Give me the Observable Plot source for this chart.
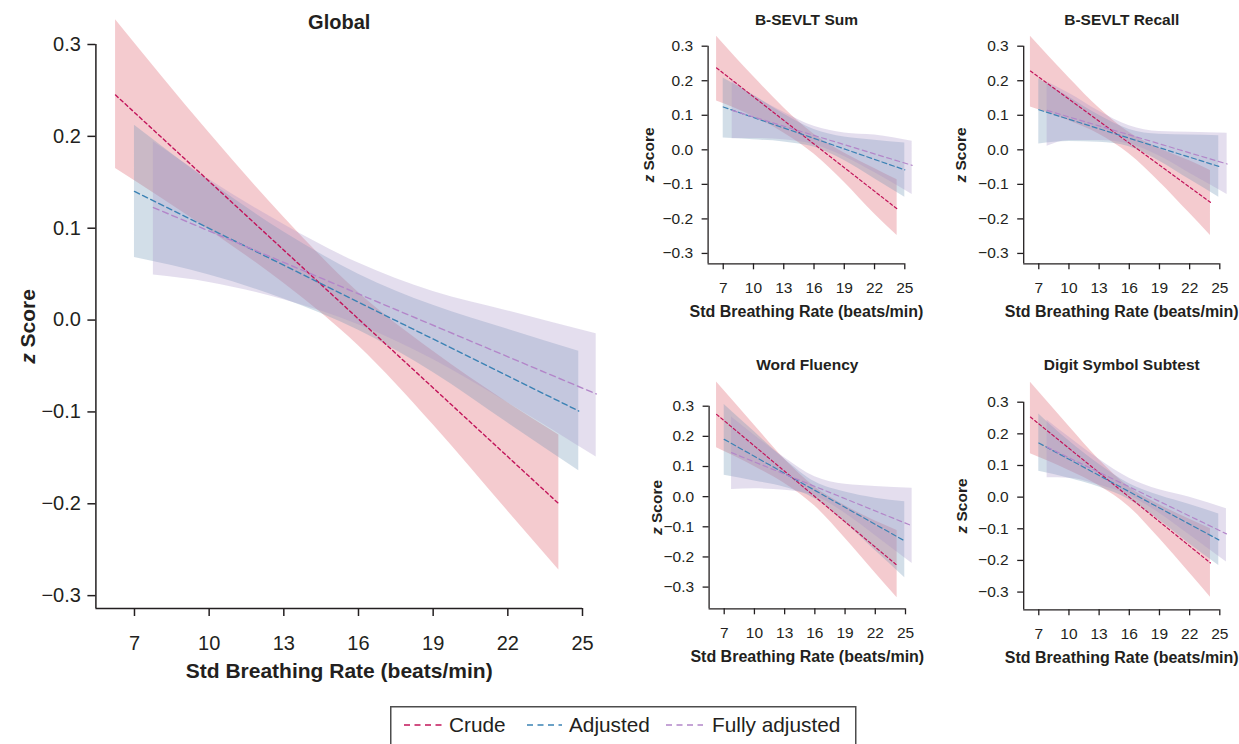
<!DOCTYPE html>
<html><head><meta charset="utf-8">
<script src="https://cdn.jsdelivr.net/npm/d3@7"></script>
<script src="https://cdn.jsdelivr.net/npm/@observablehq/plot@0.6"></script>
<style>
html,body{margin:0;padding:0;background:#fff;}
#chart{position:relative;width:1239px;height:744px;overflow:hidden;background:#fff;font-family:"Liberation Sans",Arial,Helvetica,sans-serif;}
#chart > svg{position:absolute;}
</style></head><body><div id="chart"></div>
<script>
// ---------- data ----------
const panelTitles = ["Global", "B-SEVLT Sum", "B-SEVLT Recall", "Word Fluency", "Digit Symbol Subtest"];
const seriesNames = ["Crude", "Adjusted", "Fully adjusted"];
const breathingTicks = [7, 10, 13, 16, 19, 22, 25];
const zTicks = [-0.3, -0.2, -0.1, 0, 0.1, 0.2, 0.3];
const xAxisLabel = "Std Breathing Rate (beats/min)";
const yAxisLabel = "z Score";

// Global
const globalBandX = [[6.24,10,13,16,19,22,24.05],[7.0,10,13,16,19,22,24.85],[7.76,10,13,16,19,22,25.55]];
const globalBandLo = [[0.165,0.098,0.040,-0.028,-0.114,-0.208,-0.272],[0.068,0.049,0.023,-0.011,-0.057,-0.112,-0.164],[0.049,0.041,0.022,-0.005,-0.043,-0.090,-0.149]];
const globalBandHi = [[0.327,0.204,0.112,0.030,-0.034,-0.090,-0.125],[0.212,0.151,0.096,0.050,0.016,-0.010,-0.034],[0.194,0.153,0.104,0.062,0.031,0.010,-0.015]];
const globalLineStart = [0.245, 0.140, 0.1225];
const globalLineEnd = [-0.200, -0.099, -0.0804];

// B-SEVLT Sum
const sumBandX = [[6.34,10,13,16,19,22,24.24],[7.0,10,13,16,19,22,25.0],[7.89,10,13,16,19,22,25.73]];
const sumBandLo = [[0.141,0.096,0.049,-0.012,-0.094,-0.186,-0.248],[0.034,0.029,0.023,0.008,-0.031,-0.084,-0.137],[0.032,0.033,0.029,0.015,-0.019,-0.066,-0.129]];
const sumBandHi = [[0.329,0.212,0.122,0.045,-0.009,-0.054,-0.087],[0.208,0.158,0.104,0.059,0.037,0.028,0.020],[0.201,0.157,0.109,0.068,0.049,0.043,0.025]];
const sumLineStart = [0.237, 0.124, 0.114];
const sumLineEnd = [-0.171, -0.058, -0.045];

// B-SEVLT Recall
const recallBandX = [[6.17,10,13,16,19,22,24.07],[7.0,10,13,16,19,22,24.9],[7.83,10,13,16,19,22,25.73]];
const recallBandLo = [[0.124,0.084,0.045,-0.012,-0.093,-0.184,-0.248],[0.017,0.024,0.022,0.009,-0.033,-0.086,-0.137],[0.010,0.027,0.027,0.017,-0.018,-0.068,-0.129]];
const recallBandHi = [[0.329,0.209,0.121,0.050,0.004,-0.032,-0.060],[0.206,0.153,0.100,0.059,0.045,0.043,0.041],[0.196,0.164,0.112,0.070,0.053,0.051,0.048]];
const recallLineStart = [0.228, 0.116, 0.114];
const recallLineEnd = [-0.152, -0.048, -0.041];

// Word Fluency
const fluencyBandX = [[6.24,10,13,16,19,22,24.17],[7.0,10,13,16,19,22,24.93],[7.73,10,13,16,19,22,25.66]];
const fluencyBandLo = [[0.162,0.100,0.044,-0.031,-0.138,-0.253,-0.335],[0.071,0.052,0.031,-0.007,-0.086,-0.179,-0.269],[0.024,0.026,0.021,0.002,-0.055,-0.129,-0.222]];
const fluencyBandHi = [[0.380,0.237,0.124,0.032,-0.030,-0.081,-0.112],[0.306,0.215,0.124,0.049,0.015,-0.005,-0.017],[0.264,0.204,0.129,0.066,0.041,0.034,0.028]];
const fluencyLineStart = [0.273, 0.190, 0.146];
const fluencyLineEnd = [-0.228, -0.147, -0.097];

// Digit Symbol Subtest
const digitBandX = [[6.17,10,13,16,19,22,24.07],[7.0,10,13,16,19,22,24.9],[7.83,10,13,16,19,22,25.66]];
const digitBandLo = [[0.137,0.084,0.036,-0.031,-0.131,-0.240,-0.316],[0.082,0.060,0.032,-0.008,-0.073,-0.148,-0.216],[0.061,0.060,0.038,0.005,-0.051,-0.120,-0.205]];
const digitBandHi = [[0.363,0.224,0.118,0.031,-0.024,-0.070,-0.100],[0.263,0.178,0.104,0.042,0.005,-0.023,-0.053],[0.244,0.190,0.120,0.060,0.023,0.000,-0.037]];
const digitLineStart = [0.253, 0.171, 0.158];
const digitLineEnd = [-0.208, -0.135, -0.116];

// ---------- style ----------
const ink = "#231f20";
const font = '"Liberation Sans", Arial, Helvetica, sans-serif';
const bandFills = ["#d9535f", "#6991b2", "#a591c6"];
const lineColors = ["#c2145a", "#3b82b4", "#b386c9"];

function drawPanel(p) {
  const bands = [];
  const lines = [];
  seriesNames.forEach((s, i) => {
    p.bandX[i].forEach((x, j) => bands.push({series: s, x, lo: p.bandLo[i][j], hi: p.bandHi[i][j]}));
    const xs = p.bandX[i];
    lines.push({series: s, x: xs[0], y: p.lineStart[i]}, {series: s, x: xs[xs.length - 1], y: p.lineEnd[i]});
  });
  const marks = [];
  seriesNames.forEach((s, i) => marks.push(Plot.areaY(bands.filter(d => d.series === s),
    {x: "x", y1: "lo", y2: "hi", fill: bandFills[i], fillOpacity: 0.3, curve: "monotone-x"})));
  seriesNames.forEach((s, i) => marks.push(Plot.line(lines.filter(d => d.series === s),
    {x: "x", y: "y", stroke: lineColors[i], strokeWidth: p.lw, strokeDasharray: p.dash[i]})));
  marks.push(
    Plot.ruleX([p.xDomain[0]], {stroke: ink, strokeWidth: p.axisW}),
    Plot.ruleY([p.yDomain[0]], {stroke: ink, strokeWidth: p.axisW}),
    Plot.axisX({ticks: breathingTicks, tickSize: p.tickSize, tickPadding: p.xPad, fontSize: p.tickFont, label: null, strokeWidth: p.axisW}),
    Plot.axisY({ticks: zTicks, tickFormat: d3.format(".1f"), tickSize: p.tickSize, tickPadding: p.yPad, fontSize: p.tickFont, label: null, strokeWidth: p.axisW}),
    Plot.text([p.title], {text: d => d, frameAnchor: "top", lineAnchor: "middle", textAnchor: "middle", dy: p.titleDy, fontSize: p.titleFont, fontWeight: "bold"}),
    Plot.text([xAxisLabel], {text: d => d, frameAnchor: "bottom", lineAnchor: "middle", textAnchor: "middle", dy: p.xLabelDy, fontSize: p.labelFont, fontWeight: "bold"}),
    Plot.text([yAxisLabel], {text: d => d, frameAnchor: "left", lineAnchor: "middle", textAnchor: "middle", dx: p.yLabelDx, rotate: -90, fontSize: p.yLabelFont, fontWeight: "bold"})
  );
  const svg = Plot.plot({
    width: p.width, height: p.height,
    marginTop: p.mt, marginRight: p.mr, marginBottom: p.mb, marginLeft: p.ml,
    style: {fontFamily: font, fontSize: p.tickFont + "px", color: ink, background: "none", overflow: "visible"},
    x: {domain: p.xDomain, label: null},
    y: {domain: p.yDomain, label: null},
    marks
  });
  svg.querySelectorAll("text").forEach(t => {
    if (t.textContent === yAxisLabel) {
      t.textContent = "";
      const ns = "http://www.w3.org/2000/svg";
      const a = document.createElementNS(ns, "tspan"); a.setAttribute("font-style", "italic"); a.textContent = "z";
      const b = document.createElementNS(ns, "tspan"); b.textContent = " Score";
      t.appendChild(a); t.appendChild(b);
    }
  });
  svg.style.left = p.left + "px";
  svg.style.top = p.top + "px";
  document.getElementById("chart").appendChild(svg);
}

const mainStyle = {lw: 1.4, dash: ["3.5,3", "5.5,3.5", "6,4"], axisW: 1.5, tickSize: 8, xPad: 19, yPad: 7, tickFont: 20, titleFont: 20, labelFont: 21, yLabelFont: 21};
const smallStyle = {lw: 1.2, dash: ["3,2.5", "5,3", "5,3.5"], axisW: 1.3, tickSize: 6, xPad: 12.4, yPad: 9, tickFont: 15.5, titleFont: 15.5, labelFont: 16, yLabelFont: 15.5};

drawPanel({...mainStyle, title: panelTitles[0], bandX: globalBandX, bandLo: globalBandLo, bandHi: globalBandHi, lineStart: globalLineStart, lineEnd: globalLineEnd,
  left: 0, top: 0, width: 620, height: 700, mt: 44, mb: 92, ml: 95.4, mr: 38,
  xDomain: [5.45, 25], yDomain: [-0.314, 0.3], titleDy: -22, xLabelDy: 63, yLabelDx: -68});

drawPanel({...smallStyle, title: panelTitles[1], bandX: sumBandX, bandLo: sumBandLo, bandHi: sumBandHi, lineStart: sumLineStart, lineEnd: sumLineEnd,
  left: 620, top: 0, width: 310, height: 340, mt: 45.7, mb: 340 - 263.3, ml: 87.6, mr: 930 - 904.3,
  xDomain: [5.5, 25], yDomain: [-0.33, 0.3], titleDy: -25.7, xLabelDy: 48.4, yLabelDx: -58.6});

drawPanel({...smallStyle, title: panelTitles[2], bandX: recallBandX, bandLo: recallBandLo, bandHi: recallBandHi, lineStart: recallLineStart, lineEnd: recallLineEnd,
  left: 930, top: 0, width: 309, height: 340, mt: 45.7, mb: 340 - 263.3, ml: 93.2, mr: 1239 - 1219.3,
  xDomain: [5.5, 25], yDomain: [-0.33, 0.3], titleDy: -25.7, xLabelDy: 48.4, yLabelDx: -62.5});

drawPanel({...smallStyle, title: panelTitles[3], bandX: fluencyBandX, bandLo: fluencyBandLo, bandHi: fluencyBandHi, lineStart: fluencyLineStart, lineEnd: fluencyLineEnd,
  left: 620, top: 340, width: 310, height: 340, mt: 65.7, mb: 680 - 608.3, ml: 88.6, mr: 930 - 905,
  xDomain: [5.5, 25], yDomain: [-0.372, 0.3], titleDy: -40.7, xLabelDy: 48.4, yLabelDx: -51.6});

drawPanel({...smallStyle, title: panelTitles[4], bandX: digitBandX, bandLo: digitBandLo, bandHi: digitBandHi, lineStart: digitLineStart, lineEnd: digitLineEnd,
  left: 930, top: 340, width: 309, height: 340, mt: 61.7, mb: 680 - 609.3, ml: 93.2, mr: 1239 - 1219.3,
  xDomain: [5.5, 25], yDomain: [-0.356, 0.3], titleDy: -36.7, xLabelDy: 48.4, yLabelDx: -62});

// ---------- legend ----------
const legendPos = [{x1: 14, x2: 53, tx: 59}, {x1: 137, x2: 172, tx: 179}, {x1: 276, x2: 313, tx: 322}];
const legend = d3.select("#chart").append("svg")
  .attr("width", 470).attr("height", 60)
  .style("left", "390px").style("top", "706px");
legend.append("rect").attr("x", 0.75).attr("y", 0.75).attr("width", 465).attr("height", 58)
  .attr("fill", "white").attr("stroke", "#4d4d4d").attr("stroke-width", 1.5);
seriesNames.forEach((s, i) => {
  const pos = legendPos[i];
  legend.append("line").attr("x1", pos.x1).attr("x2", pos.x2).attr("y1", 19).attr("y2", 19)
    .attr("stroke", lineColors[i]).attr("stroke-width", 1.5).attr("stroke-dasharray", "6,4.5");
  legend.append("text").attr("x", pos.tx).attr("y", 19).attr("dy", "0.35em")
    .attr("font-family", font).attr("font-size", 20.8).attr("fill", ink).text(s);
});
</script></body></html>
